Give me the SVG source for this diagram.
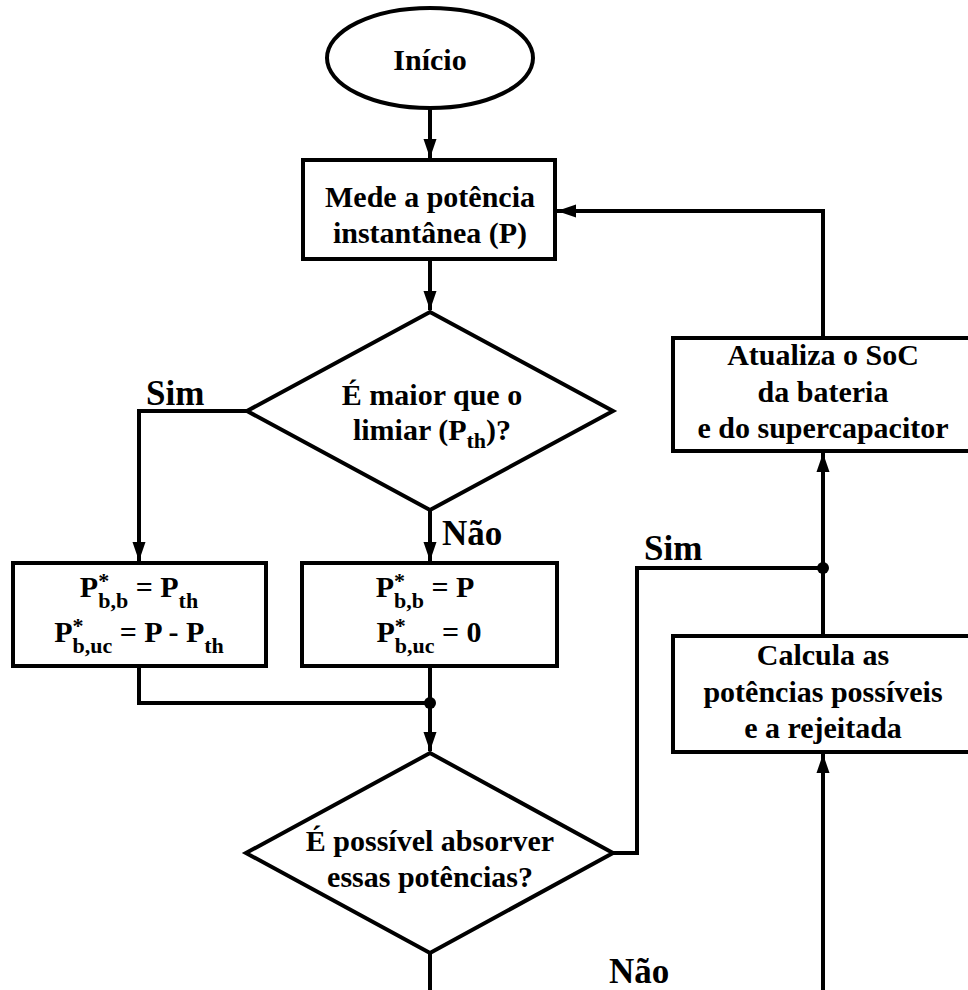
<svg xmlns="http://www.w3.org/2000/svg" width="968" height="990" viewBox="0 0 968 990">
  <style>
    .shape { fill: #fff; stroke: #000; stroke-width: 4; stroke-linejoin: miter; }
    .wire { fill: none; stroke: #000; stroke-width: 4; stroke-linejoin: miter; }
    .dot { fill: #000; }
    text { font-family: "Liberation Serif", "Times New Roman", serif; font-weight: bold; fill: #000; }
    .t { font-size: 30px; text-anchor: middle; }
    .lbl { font-size: 35px; }
    .sub { font-size: 22px; }
  </style>
  <defs>
    <marker id="arrow" markerUnits="userSpaceOnUse" markerWidth="20" markerHeight="16" viewBox="0 0 20 16" refX="19" refY="8" orient="auto">
      <path d="M0,1.5 L19,8 L0,14.5 Z" fill="#000"/>
    </marker>
  </defs>

  <rect width="968" height="990" fill="#fff"/>

  <!-- connectors -->
  <g id="connectors">
    <path class="wire" d="M430,108 V158" marker-end="url(#arrow)"/>
    <path class="wire" d="M430,259 V310" marker-end="url(#arrow)"/>
    <path class="wire" d="M247,411 H139 V561" marker-end="url(#arrow)"/>
    <path class="wire" d="M430,510 V561" marker-end="url(#arrow)"/>
    <path class="wire" d="M139,666 V703 H430"/>
    <path class="wire" d="M430,666 V751" marker-end="url(#arrow)"/>
    <path class="wire" d="M612,853 H637 V568 H823"/>
    <path class="wire" d="M823,990 V754" marker-end="url(#arrow)"/>
    <path class="wire" d="M823,636 V453" marker-end="url(#arrow)"/>
    <path class="wire" d="M823,338 V211 H557" marker-end="url(#arrow)"/>
    <path class="wire" d="M430,953 V990"/>
    <circle class="dot" cx="430" cy="703" r="6"/>
    <circle class="dot" cx="823" cy="568" r="6"/>
  </g>

  <g id="inicio">
    <ellipse class="shape" cx="430" cy="58" rx="103" ry="50"/>
    <text class="t" x="430" y="70">Início</text>
  </g>

  <g id="mede">
    <rect class="shape" x="303" y="160" width="252" height="99"/>
    <text class="t" x="430" y="207">Mede a potência</text>
    <text class="t" x="430" y="243">instantânea (P)</text>
  </g>

  <g id="limiar">
    <polygon class="shape" points="430,312 613,411 430,510 247,411"/>
    <text class="t" x="432" y="405">É maior que o</text>
    <text class="t" x="432" y="440">limiar (P<tspan class="sub" dy="8">th</tspan><tspan dy="-8">)?</tspan></text>
  </g>

  <g id="acima">
    <rect class="shape" x="13" y="563" width="253" height="103"/>
    <text class="t" x="139" y="597">P<tspan class="sub" dy="-9">*</tspan><tspan class="sub" dx="-11" dy="20">b,b</tspan><tspan dy="-11"> = P</tspan><tspan class="sub" dy="11">th</tspan></text>
    <text class="t" x="139" y="642">P<tspan class="sub" dy="-9">*</tspan><tspan class="sub" dx="-11" dy="20">b,uc</tspan><tspan dy="-11"> = P - P</tspan><tspan class="sub" dy="11">th</tspan></text>
  </g>

  <g id="abaixo">
    <rect class="shape" x="302" y="563" width="255" height="103"/>
    <text class="t" x="425" y="597">P<tspan class="sub" dy="-9">*</tspan><tspan class="sub" dx="-11" dy="20">b,b</tspan><tspan dy="-11"> = P</tspan></text>
    <text class="t" x="429" y="642">P<tspan class="sub" dy="-9">*</tspan><tspan class="sub" dx="-11" dy="20">b,uc</tspan><tspan dy="-11"> = 0</tspan></text>
  </g>

  <g id="absorver">
    <polygon class="shape" points="430,753 613,853 430,953 246,853"/>
    <text class="t" x="430" y="851">É possível absorver</text>
    <text class="t" x="430" y="887">essas potências?</text>
  </g>

  <g id="calcula">
    <rect class="shape" x="673" y="636" width="300" height="116"/>
    <text class="t" x="823" y="665">Calcula as</text>
    <text class="t" x="823" y="702">potências possíveis</text>
    <text class="t" x="823" y="738">e a rejeitada</text>
  </g>

  <g id="atualiza">
    <rect class="shape" x="673" y="338" width="300" height="113"/>
    <text class="t" x="823" y="365">Atualiza o SoC</text>
    <text class="t" x="823" y="402">da bateria</text>
    <text class="t" x="823" y="438">e do supercapacitor</text>
  </g>

  <g id="labels">
    <text class="lbl" x="146" y="405">Sim</text>
    <text class="lbl" x="442" y="545">Não</text>
    <text class="lbl" x="644" y="560">Sim</text>
    <text class="lbl" x="609" y="983">Não</text>
  </g>
</svg>
